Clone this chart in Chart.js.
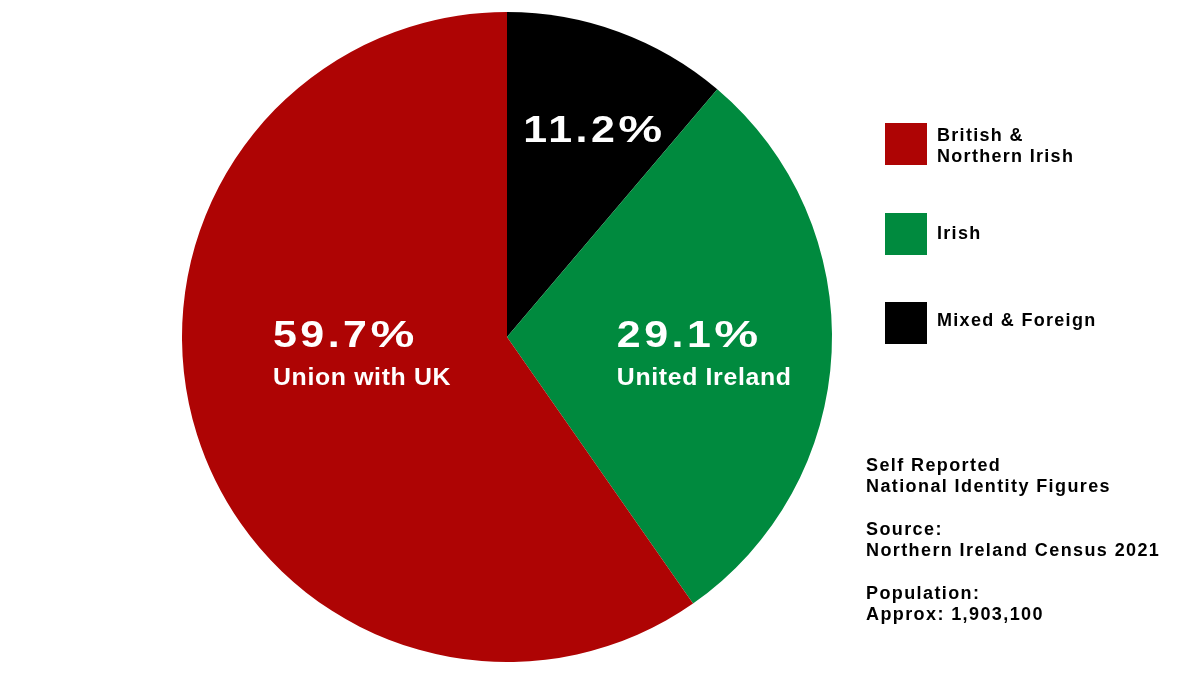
<!DOCTYPE html>
<html>
<head>
<meta charset="utf-8">
<script src="https://cdn.jsdelivr.net/npm/chart.js@4.4.1/dist/chart.umd.min.js"></script>
<style>
  body { margin: 0; background: #fff; }
  #wrap { position: relative; width: 1200px; height: 675px; overflow: hidden; }
  canvas { position: absolute; left: 0; top: 0; }
  .legend-item { position: absolute; left: 885px; }
  .legend-box { position: absolute; left: 0; top: 0; width: 42px; height: 42px; }
  .legend-text {
    position: absolute; left: 52px; white-space: pre;
    font: bold 18px "Liberation Sans", Arial, sans-serif;
    line-height: 21px; letter-spacing: 1.3px; color: #000;
  }
  #notes {
    position: absolute; left: 866px; top: 455px; white-space: pre;
    font: bold 18px "Liberation Sans", Arial, sans-serif;
    line-height: 21.3px; letter-spacing: 1.4px; color: #000;
  }
</style>
</head>
<body>
<div id="wrap">
  <canvas id="pie" width="1200" height="675"></canvas>
  <div id="legend"></div>
  <div id="notes"></div>
</div>
<script>
// slices in clockwise order from 12 o'clock
const sliceNames = ['Mixed & Foreign', 'Irish', 'British & Northern Irish'];
const sliceValues = [11.2, 29.1, 59.7];
const sliceColors = ['#000000', '#008a3e', '#ae0404'];
const sliceCaptions = ['', 'United Ireland', 'Union with UK'];

// legend reads top to bottom
const legendLabels = [['British &', 'Northern Irish'], ['Irish'], ['Mixed & Foreign']];
const legendColors = ['#ae0404', '#008a3e', '#000000'];

const noteLines = [
  'Self Reported',
  'National Identity Figures',
  '',
  'Source:',
  'Northern Ireland Census 2021',
  '',
  'Population:',
  'Approx: 1,903,100'
];

// where each slice's text sits, as fractions of the radius from the centre
const labelSpots = [
  { dx: 0.05, dy: -0.6 },
  { dx: 0.338, dy: 0.03 },
  { dx: -0.72, dy: 0.03 }
];

const bigFont = 'bold 37px "Liberation Sans", Arial, sans-serif';
const smallFont = 'bold 23px "Liberation Sans", Arial, sans-serif';

// the reference lettering is a wide grotesque, so stretch it a little
function drawPercent(ctx, value, x, y) {
  ctx.save();
  ctx.font = bigFont;
  ctx.translate(x, y);
  ctx.scale(1.16, 1);
  ctx.letterSpacing = '3px';
  const num = value.toFixed(1);
  ctx.fillText(num, 0, 0);
  const w = ctx.measureText(num).width;
  ctx.letterSpacing = '0px';
  ctx.translate(w, 0);
  ctx.scale(1.15, 1);
  ctx.fillText('%', 0, 0);
  ctx.restore();
}

const sliceLabels = {
  id: 'sliceLabels',
  afterDatasetsDraw(chart) {
    const ctx = chart.ctx;
    const arcs = chart.getDatasetMeta(0).data;
    ctx.save();
    ctx.fillStyle = '#fff';
    ctx.textAlign = 'left';
    ctx.textBaseline = 'alphabetic';
    arcs.forEach((arc, i) => {
      const r = arc.outerRadius;
      const x = arc.x + labelSpots[i].dx * r;
      const y = arc.y + labelSpots[i].dy * r;
      drawPercent(ctx, sliceValues[i], x, y);
      if (sliceCaptions[i]) {
        ctx.save();
        ctx.font = smallFont;
        ctx.translate(x, y + 38);
        ctx.scale(1.08, 1);
        ctx.letterSpacing = '0.6px';
        ctx.fillText(sliceCaptions[i], 0, 0);
        ctx.restore();
      }
    });
    ctx.restore();
  }
};

new Chart(document.getElementById('pie'), {
  type: 'pie',
  data: {
    labels: sliceNames,
    datasets: [{
      data: sliceValues,
      backgroundColor: sliceColors,
      borderWidth: 0
    }]
  },
  options: {
    responsive: false,
    animation: false,
    layout: { padding: { left: 182, right: 368, top: 12, bottom: 13 } },
    plugins: {
      legend: { display: false },
      tooltip: { enabled: false }
    }
  },
  plugins: [sliceLabels]
});

// side legend
const legendEl = document.getElementById('legend');
const legendTops = [123, 213, 302];
const legendTextTops = [125, 223, 310];
legendLabels.forEach((lines, i) => {
  const item = document.createElement('div');
  item.className = 'legend-item';
  item.style.top = legendTops[i] + 'px';
  const box = document.createElement('div');
  box.className = 'legend-box';
  box.style.background = legendColors[i];
  const txt = document.createElement('div');
  txt.className = 'legend-text';
  txt.style.top = (legendTextTops[i] - legendTops[i]) + 'px';
  txt.textContent = lines.join('\n');
  item.appendChild(box);
  item.appendChild(txt);
  legendEl.appendChild(item);
});

document.getElementById('notes').textContent = noteLines.join('\n');
</script>
</body>
</html>
